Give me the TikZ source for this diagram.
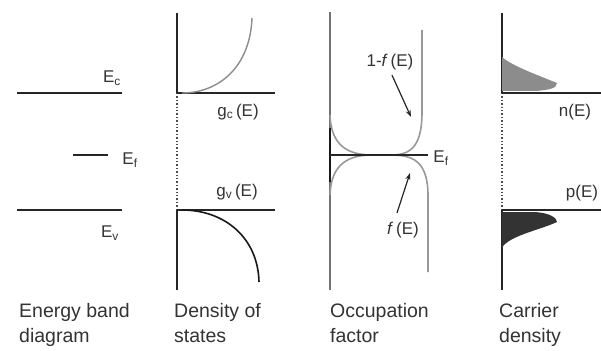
\documentclass[tikz,border=0pt]{standalone}
\usepackage{fontspec}
\setmainfont{Liberation Sans}
\usetikzlibrary{arrows.meta, positioning}

\begin{document}
\begin{tikzpicture}[
    x=1pt, y=-1pt,
    level/.style={line width=2.6pt, black!85},
    axis/.style={line width=2.4pt, black!85},
    gap/.style={line width=1.4pt, dotted, black!70},
    occ/.style={line width=1.6pt, black!40},
    lbl/.style={font=\fontsize{17}{20}\selectfont, inner sep=1pt, text=black!80},
    caption/.style={font=\fontsize{19.5}{25}\selectfont, align=left,
                    anchor=north west, inner sep=0pt, text=black!80},
    arrow/.style={-{Stealth[length=7pt, width=5pt]}, line width=1.2pt, black!85}
]
\useasboundingbox (0,0) rectangle (601,350);

% energy band diagram
\draw[level] (17,93) -- (122,93);
\draw[level] (17,210) -- (122,210);
\draw[line width=1.6pt, black!85] (73,155) -- (108,155);
\node[lbl] (ec) at (112,78) {E\textsubscript{c}};
\node[lbl] (ef) at (130,160) {E\textsubscript{f}};
\node[lbl] (ev) at (110,233) {E\textsubscript{v}};

% density of states
\draw[axis] (177,13) -- (177,93);
\draw[gap] (177,93) -- (177,210);
\draw[axis] (177,210) -- (177,290);
\draw[level] (177,93) -- (275,93);
\draw[level] (177,210) -- (275,210);
\draw[line width=1.4pt, black!45] (182,93) .. controls (218,93) and (250,68) .. (252,18);
\draw[line width=1.6pt, black!90] (182,210) .. controls (225,210) and (258,238) .. (259,282);
\node[lbl] (gc) at (238,112) {g\textsubscript{c}\,(E)};
\node[lbl] (gv) at (237,192) {g\textsubscript{v}\,(E)};

% occupation factor
\draw[line width=2.2pt, black!55] (330,12) -- (330,290);
\draw[line width=2.6pt, black!90] (330,128) -- (330,182);
\draw[occ] (422,30) -- (422,112) .. controls (422,150) and (408,155) .. (390,155)
    -- (372,155) .. controls (342,155) and (331,140) .. (330,115);
\draw[occ] (428,272) -- (428,196) .. controls (428,160) and (412,155) .. (390,155)
    -- (372,155) .. controls (342,155) and (331,170) .. (330,195);
\draw[level, line width=2.2pt] (330,155) -- (428,155);
\node[lbl] (ef3) at (441,158) {E\textsubscript{f}};
\node[lbl] (one) at (390,62) {1-\textit{f}\,(E)};
\node[lbl] (fe) at (403,230) {\textit{f}\,(E)};
\coordinate (onetip) at (411,117);
\coordinate (fetip) at (410,173);
\draw[arrow] (one.south) ++(2,4) -- (onetip);
\draw[arrow] (fe.north) ++(-6,-8) -- (fetip);

% carrier density
\draw[axis] (502,13) -- (502,93);
\draw[gap] (502,93) -- (502,210);
\draw[axis] (502,210) -- (502,290);
\fill[black!45] (502,57) .. controls (512,66) and (540,76) .. (557,83)
    .. controls (557,88) and (550,90) .. (535,91) -- (502,91) -- cycle;
\fill[black!80] (502,212) -- (535,212) .. controls (550,213) and (557,218) .. (557,222)
    .. controls (540,230) and (508,236) .. (502,248) -- cycle;
\draw[level] (502,93) -- (601,93);
\draw[level] (502,210) -- (601,210);
\node[lbl] (ne) at (575,112) {n(E)};
\node[lbl] (pe) at (582,193) {p(E)};

% captions
\node[caption] (cap1) at (19,303) {Energy band\\diagram};
\node[caption] (cap2) at (174,303) {Density of\\states};
\node[caption] (cap3) at (330,303) {Occupation\\factor};
\node[caption] (cap4) at (499,303) {Carrier\\density};
\end{tikzpicture}
\end{document}
